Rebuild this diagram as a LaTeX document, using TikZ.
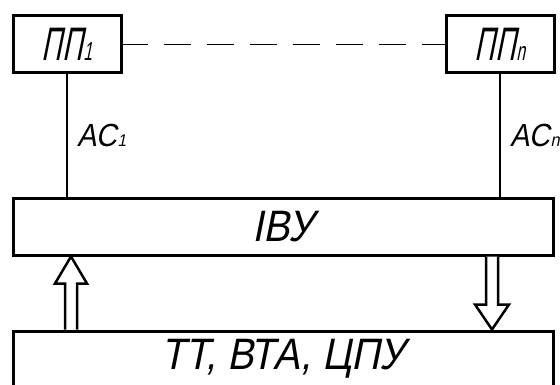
\documentclass[tikz,border=0pt]{standalone}
\usepackage{fontspec}
\newfontfamily\gost[FakeSlant=0.2,FakeStretch=0.9]{Liberation Sans}
\newfontfamily\gostn[FakeSlant=0.2,FakeStretch=0.6]{Liberation Sans}
\usetikzlibrary{calc}
\tikzset{
  blk/.style={draw, line width=3pt, inner sep=0pt, fill=white},
  ppbox/.style={blk, minimum width=108pt, minimum height=57pt},
  widebox/.style={blk, minimum width=540pt, minimum height=56pt},
  conn/.style={line width=1.5pt},
  dashconn/.style={line width=1.5pt, dash pattern=on 27pt off 16pt, dash phase=2pt},
  blockarrow/.style={draw, line width=2.5pt, fill=white, line join=miter, miter limit=3},
  lbl/.style={inner sep=0pt, anchor=west}
}
\begin{document}
\begin{tikzpicture}[x=1pt,y=-1pt]
\clip (0,0) rectangle (560,385);
\fill[white] (0,0) rectangle (560,385);
% boxes
\node[ppbox] (p1) at (67,44.5) {\gostn\fontsize{47}{47}\selectfont ПП\kern1pt{\fontsize{26}{26}\selectfont 1}};
\node[ppbox] (pn) at (500,44.5) {\gostn\fontsize{47}{47}\selectfont ПП\kern1pt{\fontsize{26}{26}\selectfont n}};
\node[widebox] (ivu) at (283,227) {\gost\fontsize{44}{44}\selectfont ІВУ};
\node[widebox] (tt) at (283,359) {\gost\fontsize{44}{44}\selectfont ТТ, ВТА, ЦПУ};
% connectors
\draw[dashconn] (p1.east) -- (pn.west);
\draw[conn] (p1.south) -- (p1.south |- ivu.north);
\draw[conn] (pn.south) -- (pn.south |- ivu.north);
% labels
\node[lbl] (ac1) at (77,135) {\gost\fontsize{32}{32}\selectfont АС\kern1pt{\fontsize{17}{17}\selectfont 1}};
\node[lbl] (acn) at (510,135) {\gost\fontsize{32}{32}\selectfont АС\kern1pt{\fontsize{18}{18}\selectfont n}};
% up block arrow
\coordinate (ut) at ($(ivu.south west)+(59.5,0)$);
\coordinate (ub) at (ut |- tt.north);
\draw[blockarrow] ($(ub)+(-6,0)$) -- ($(ut)+(-6,27)$) -- ($(ut)+(-16,27)$) -- (ut) -- ($(ut)+(16,27)$) -- ($(ut)+(6,27)$) -- ($(ub)+(6,0)$);
% down block arrow
\coordinate (ds) at ($(ivu.south west)+(480.5,0)$);
\coordinate (dt) at (ds |- tt.north);
\draw[blockarrow] ($(ds)+(-6,0)$) -- ($(dt)+(-6,-25)$) -- ($(dt)+(-17,-25)$) -- (dt) -- ($(dt)+(17,-25)$) -- ($(dt)+(6,-25)$) -- ($(ds)+(6,0)$);
\end{tikzpicture}
\end{document}
